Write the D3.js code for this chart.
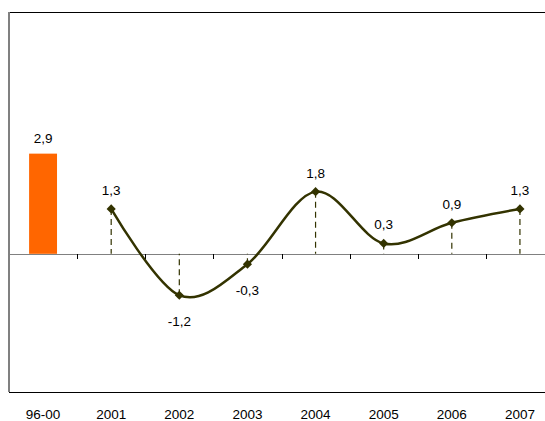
<!DOCTYPE html>
<html lang="en">
<head>
	<meta charset="UTF-8">
	<title>growth chart</title>
	<script src="https://cdn.jsdelivr.net/npm/d3@7"></script>
	<style>
	body { margin: 0; background: #fff; }
	text { font-family: "Liberation Sans", Arial, sans-serif; font-size: 13.5px; fill: #000; }
	</style>
</head>
<body>
	<div id="chart"></div>

	<script>
		// categories and values
		var categories = ['96-00', '2001', '2002', '2003', '2004', '2005', '2006', '2007'];
		var barCategories = ['96-00'];
		var barValues = [2.9];
		var lineCategories = ['2001', '2002', '2003', '2004', '2005', '2006', '2007'];
		var lineValues = [1.3, -1.2, -0.3, 1.8, 0.3, 0.9, 1.3];
		var yDomain = [-4, 7];

		var width = 545, height = 421;
		// plot box (window.top is reserved, so use own names)
		var plotLeft = 9, plotRight = 554, plotTop = 12, plotBottom = 392;

		var svg = d3.select('#chart').append('svg')
			.attr('width', width)
			.attr('height', height);

		var x = d3.scaleBand().domain(categories).range([plotLeft, plotRight]);
		var y = d3.scaleLinear().domain(yDomain).range([plotBottom, plotTop]);

		var loc = d3.formatLocale({decimal: ',', thousands: '.', grouping: [3], currency: ['', ''], minus: '-'});
		var fmt = loc.format('.1f');

		// frame: top and bottom black, left grey
		svg.append('line')
			.attr('x1', plotLeft).attr('x2', width)
			.attr('y1', plotTop + 0.5).attr('y2', plotTop + 0.5)
			.attr('stroke', '#000').attr('stroke-width', 1);
		svg.append('line')
			.attr('x1', plotLeft).attr('x2', width)
			.attr('y1', plotBottom + 0.5).attr('y2', plotBottom + 0.5)
			.attr('stroke', '#000').attr('stroke-width', 1);

		// bar
		var barData = barCategories.map(function (c, i) { return {c: c, v: barValues[i]}; });
		var bw = x.bandwidth() * 0.41;
		svg.selectAll('rect.bar').data(barData).enter().append('rect')
			.attr('class', 'bar')
			.attr('x', function (d) { return x(d.c) + x.bandwidth() / 2 - bw / 2; })
			.attr('y', function (d) { return y(d.v); })
			.attr('width', bw)
			.attr('height', function (d) { return y(0) - y(d.v); })
			.attr('fill', '#ff6600');

		// zero axis with ticks
		var ax = svg.append('g').attr('transform', 'translate(0,' + Math.round(y(0)) + ')');
		ax.append('line')
			.attr('x1', plotLeft - 1).attr('x2', plotRight)
			.attr('y1', 0.5).attr('y2', 0.5)
			.attr('stroke', '#808080').attr('stroke-width', 1);
		ax.selectAll('line.tick').data(categories.slice(1)).enter().append('line')
			.attr('class', 'tick')
			.attr('x1', function (d) { return Math.round(x(d)) + 0.5; })
			.attr('x2', function (d) { return Math.round(x(d)) + 0.5; })
			.attr('y1', 0).attr('y2', 5)
			.attr('stroke', '#000').attr('stroke-width', 1);

		// left axis
		svg.append('line')
			.attr('x1', plotLeft).attr('x2', plotLeft)
			.attr('y1', plotTop).attr('y2', plotBottom)
			.attr('stroke', '#808080').attr('stroke-width', 2);

		var lineData = lineCategories.map(function (c, i) { return {c: c, v: lineValues[i]}; });
		var cx = function (d) { return x(d.c) + x.bandwidth() / 2; };

		// drop lines
		svg.selectAll('line.drop').data(lineData).enter().append('line')
			.attr('class', 'drop')
			.attr('x1', cx).attr('x2', cx)
			.attr('y1', function (d) { return y(d.v); })
			.attr('y2', y(0))
			.attr('stroke', '#333300')
			.attr('stroke-width', 1.2)
			.attr('stroke-dasharray', '6,4');

		// smoothed line
		var line = d3.line()
			.x(cx)
			.y(function (d) { return y(d.v); })
			.curve(d3.curveCardinal.tension(0));
		svg.append('path')
			.datum(lineData)
			.attr('d', line)
			.attr('fill', 'none')
			.attr('stroke', '#333300')
			.attr('stroke-width', 2.5);

		// diamond markers
		var sym = d3.symbol().type(d3.symbolSquare).size(42);
		svg.selectAll('path.mark').data(lineData).enter().append('path')
			.attr('class', 'mark')
			.attr('d', sym)
			.attr('transform', function (d) { return 'translate(' + cx(d) + ',' + y(d.v) + ') rotate(45)'; })
			.attr('fill', '#333300');

		// data labels
		svg.selectAll('text.blab').data(barData).enter().append('text')
			.attr('class', 'blab')
			.attr('x', function (d) { return x(d.c) + x.bandwidth() / 2; })
			.attr('y', function (d) { return y(d.v) - 11; })
			.attr('text-anchor', 'middle')
			.text(function (d) { return fmt(d.v); });

		svg.selectAll('text.llab').data(lineData).enter().append('text')
			.attr('class', 'llab')
			.attr('x', cx)
			.attr('y', function (d) { return d.v < 0 ? y(d.v) + 31 : y(d.v) - 14; })
			.attr('text-anchor', 'middle')
			.text(function (d) { return fmt(d.v); });

		// category labels
		svg.selectAll('text.cat').data(categories).enter().append('text')
			.attr('class', 'cat')
			.attr('x', function (d) { return x(d) + x.bandwidth() / 2; })
			.attr('y', 419)
			.attr('text-anchor', 'middle')
			.text(function (d) { return d; });
	</script>
</body>
</html>
